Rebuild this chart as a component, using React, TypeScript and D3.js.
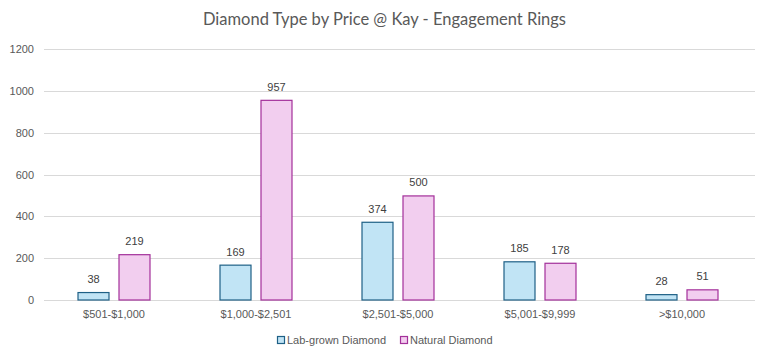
import React from "react";
import * as d3 from "d3";

const categories = ["$501-$1,000", "$1,000-$2,501", "$2,501-$5,000", "$5,001-$9,999", ">$10,000"];
const labGrown = [38, 169, 374, 185, 28];
const natural = [219, 957, 500, 178, 51];
const seriesNames = ["Lab-grown Diamond", "Natural Diamond"];
const yTicks = [0, 200, 400, 600, 800, 1000, 1200];

const W = 765, H = 361;
const fills = ["#C1E4F5", "#F2CEEF"];
const strokes = ["#1E6086", "#A3309A"];
const font = "'Liberation Sans', Arial, sans-serif";

export default function App() {
  const x = d3.scaleBand().domain(categories).range([43, 753]);
  const y = d3.scaleLinear().domain([0, 1200]).range([300, 49]);
  const bw = 32, gap = 9;
  const series = [labGrown, natural];
  return (
    <svg width={W} height={H} style={{ position: "absolute", left: 0, top: 0, background: "#fff" }}>
      <rect width={W} height={H} fill="#fff" />
      <text x={W / 2 + 2} y={25} textAnchor="middle" fontFamily="Lato, 'Open Sans', sans-serif" fontSize={16.5} fill="#595959">
        Diamond Type by Price @ Kay - Engagement Rings
      </text>
      {yTicks.map((t) => (
        <g key={t}>
          <line x1={44} x2={755} y1={Math.round(y(t)) + 0.5} y2={Math.round(y(t)) + 0.5} stroke="#D9D9D9" strokeWidth={1} />
          <text x={34} y={y(t) + 4} textAnchor="end" fontFamily={font} fontSize={11} fill="#595959">{t}</text>
        </g>
      ))}
      {categories.map((c, i) => {
        const cx = (x(c) as number) + x.bandwidth() / 2;
        return (
          <g key={c}>
            {series.map((s, j) => {
              const bx = j === 0 ? cx - gap / 2 - bw : cx + gap / 2;
              const v = s[i];
              return (
                <g key={j}>
                  <rect x={bx + 0.5} y={y(v) + 0.5} width={bw - 1} height={y(0) - y(v) - 0.5} fill={fills[j]} stroke={strokes[j]} strokeWidth={1.2} />
                  <text x={bx + bw / 2} y={y(v) - 9} textAnchor="middle" fontFamily={font} fontSize={11} fill="#404040">{v}</text>
                </g>
              );
            })}
            <text x={cx} y={318} textAnchor="middle" fontFamily={font} fontSize={11} fill="#595959">{c}</text>
          </g>
        );
      })}
      {seriesNames.map((n, j) => {
        const lx = j === 0 ? 277 : 400;
        return (
          <g key={n}>
            <rect x={lx + 0.5} y={336.5} width={7} height={7} fill={fills[j]} stroke={strokes[j]} strokeWidth={1.2} />
            <text x={lx + 10} y={344} fontFamily={font} fontSize={11} fill="#595959">{n}</text>
          </g>
        );
      })}
    </svg>
  );
}
